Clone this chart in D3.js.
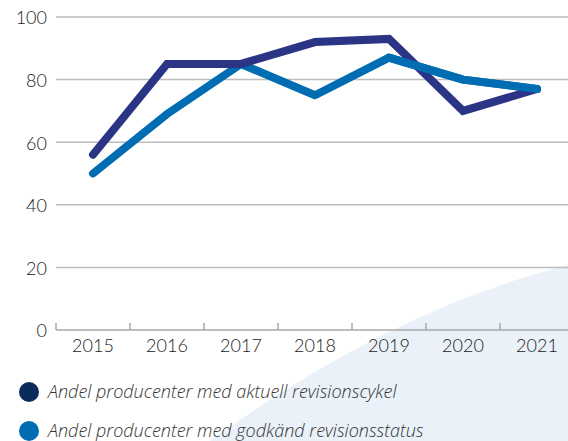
<!DOCTYPE html>
<html>
<head>
<meta charset="utf-8">
<script src="https://cdn.jsdelivr.net/npm/d3@7"></script>
<style>
  body { margin: 0; background: #fff; }
  svg { display: block; }
</style>
</head>
<body>
<svg id="chart" width="568" height="441"></svg>
<script>
const years = ["2015", "2016", "2017", "2018", "2019", "2020", "2021"];
const cykel = [56, 85, 85, 92, 93, 70, 77];
const status = [50, 69, 85, 75, 87, 80, 77];
const yTicks = [0, 20, 40, 60, 80, 100];
const seriesNames = [
    "Andel producenter med aktuell revisionscykel",
    "Andel producenter med godkänd revisionsstatus"
];

const svg = d3.select("#chart"),
    width = +svg.attr("width"),
    height = +svg.attr("height"),
    margin = { top: 17, right: 0, bottom: 111, left: 56 },
    chartWidth = width - margin.left - margin.right,
    chartHeight = height - margin.top - margin.bottom;

// bakgrundsform
svg.append("path")
    .attr("d", `M210,${height} Q390,310 ${width},265 L${width},${height} Z`)
    .attr("fill", "#eaf1f8");

const chart = svg.append("g")
    .attr("transform", `translate(${margin.left},${margin.top})`);

const x = d3.scaleBand()
    .domain(years)
    .range([0, 74 * years.length])
    .padding(0);

const y = d3.scaleLinear()
    .domain([0, 100])
    .range([chartHeight, 0]);

// stödlinjer
chart.append("g")
    .selectAll("line")
    .data(yTicks.filter(d => d > 0))
    .join("line")
    .attr("x1", 0)
    .attr("x2", chartWidth)
    .attr("y1", d => y(d))
    .attr("y2", d => y(d))
    .attr("stroke", "#bdbdbd")
    .attr("stroke-width", 1.5);

// y-axel etiketter
chart.append("g")
    .selectAll("text")
    .data(yTicks)
    .join("text")
    .attr("x", -9)
    .attr("y", d => y(d) + 3)
    .attr("text-anchor", "end")
    .attr("dominant-baseline", "middle")
    .style("font-family", "Lato, sans-serif")
    .style("font-weight", 300)
    .style("font-size", "18px")
    .style("fill", "#1a1a1a")
    .text(d => d);

// x-axel
chart.append("line")
    .attr("x1", 0)
    .attr("x2", chartWidth)
    .attr("y1", chartHeight)
    .attr("y2", chartHeight)
    .attr("stroke", "#a8a8a8")
    .attr("stroke-width", 1.5);

chart.append("g")
    .selectAll("line")
    .data(years)
    .join("line")
    .attr("x1", d => x(d))
    .attr("x2", d => x(d))
    .attr("y1", chartHeight)
    .attr("y2", chartHeight - 7)
    .attr("stroke", "#a8a8a8")
    .attr("stroke-width", 1.5);

chart.append("g")
    .selectAll("text")
    .data(years)
    .join("text")
    .attr("x", d => x(d) + x.bandwidth() / 2)
    .attr("y", chartHeight + 18)
    .attr("text-anchor", "middle")
    .attr("dominant-baseline", "middle")
    .style("font-family", "Lato, sans-serif")
    .style("font-weight", 300)
    .style("font-size", "18px")
    .style("fill", "#1a1a1a")
    .text(d => d);

// linjer
const line = d3.line()
    .x((d, i) => x(years[i]) + x.bandwidth() / 2)
    .y(d => y(d));

chart.append("path")
    .datum(status)
    .attr("d", line)
    .attr("fill", "none")
    .attr("stroke", "#006db3")
    .attr("stroke-width", 8)
    .attr("stroke-linecap", "round")
    .attr("stroke-linejoin", "round");

chart.append("path")
    .datum(cykel)
    .attr("d", line)
    .attr("fill", "none")
    .attr("stroke", "#2b3485")
    .attr("stroke-width", 8)
    .attr("stroke-linecap", "round")
    .attr("stroke-linejoin", "miter");

// status-linjen ligger ovanpå i slutet
chart.append("path")
    .datum(status.slice(4))
    .attr("d", d3.line()
        .x((d, i) => x(years[i + 4]) + x.bandwidth() / 2)
        .y(d => y(d)))
    .attr("fill", "none")
    .attr("stroke", "#006db3")
    .attr("stroke-width", 8)
    .attr("stroke-linecap", "round")
    .attr("stroke-linejoin", "round");

// legend
const legendColors = ["#0b2b5c", "#006db3"];
const legend = svg.append("g")
    .attr("transform", "translate(29, 392)");

seriesNames.forEach((name, i) => {
    const g = legend.append("g").attr("transform", `translate(0, ${i * 39})`);
    g.append("circle")
        .attr("r", 10)
        .attr("fill", legendColors[i]);
    g.append("text")
        .attr("x", 19)
        .attr("y", 1)
        .attr("dominant-baseline", "middle")
        .style("font-family", "'Open Sans', sans-serif")
        .style("font-style", "italic")
        .style("font-weight", 300)
        .style("font-size", "18px")
        .style("fill", "#333")
        .text(name);
});
</script>
</body>
</html>
